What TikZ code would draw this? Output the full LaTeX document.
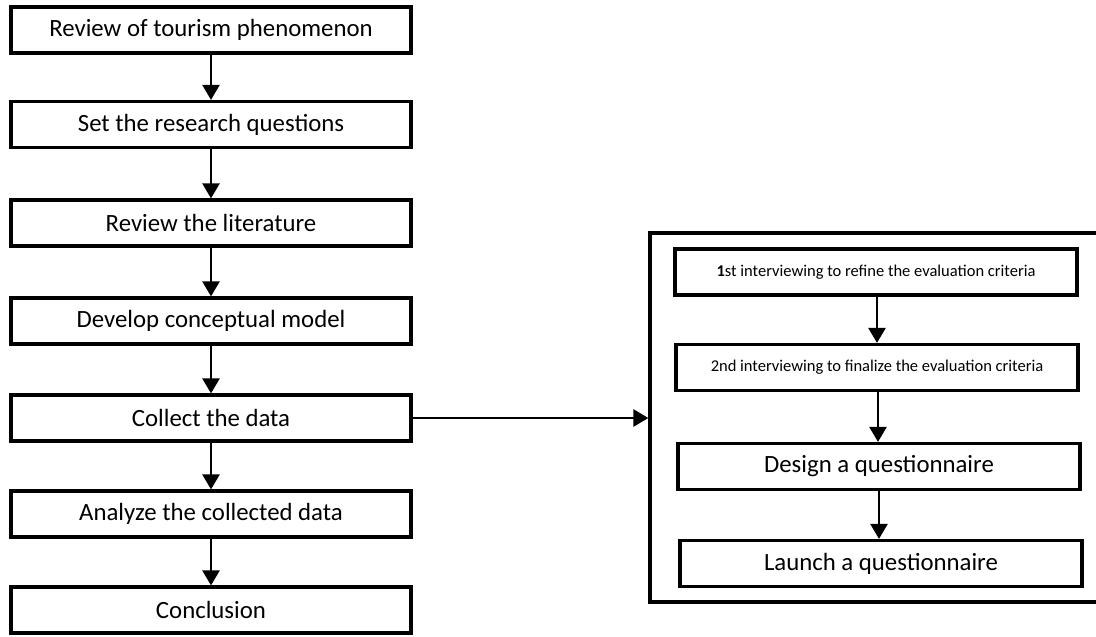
\documentclass[tikz,border=0pt]{standalone}
\usepackage{fontspec}
\setmainfont{Carlito}
\usetikzlibrary{arrows.meta}
\begin{document}
\begin{tikzpicture}[x=1pt,y=-1pt,
  lbox/.style={draw,line width=3.2pt,minimum width=400pt,minimum height=46pt,inner sep=0pt,
    font=\fontsize{24.8}{28}\selectfont},
  rbox/.style={draw,line width=3.2pt,minimum width=402pt,minimum height=46pt,inner sep=0pt},
  small/.style={font=\fontsize{16.5}{19}\selectfont},
  big/.style={font=\fontsize{24.8}{28}\selectfont},
  arr/.style={line width=2.5pt,-{Triangle[length=15pt,width=17pt]}}]
\clip (0,0) rectangle (1096,637);
\fill[white] (0,0) rectangle (1096,637);
\node[lbox] (n1) at (211,30) {Review of tourism phenomenon};
\node[lbox] (n2) at (211,124.5) {Set the research questions};
\node[lbox] (n3) at (211,223) {Review the literature};
\node[lbox] (n4) at (211,321) {Develop conceptual model};
\node[lbox] (n5) at (211,418) {Collect the data};
\node[lbox] (n6) at (211,514) {Analyze the collected data};
\node[lbox] (n7) at (211,610) {Conclusion};
\node[draw,line width=3.2pt,minimum width=460pt,minimum height=369pt,inner sep=0pt] (box) at (880,417.5) {};
\node[rbox,small] (r1) at (876,272) {\textbf{1}st interviewing to refine the evaluation criteria};
\node[rbox,small] (r2) at (877,367.5) {2nd interviewing to finalize the evaluation criteria};
\node[rbox,big] (r3) at (879,466.5) {Design a questionnaire};
\node[rbox,big] (r4) at (881,563.5) {Launch a questionnaire};
\draw[arr] (n1) -- (n2);
\draw[arr] (n2) -- (n3);
\draw[arr] (n3) -- (n4);
\draw[arr] (n4) -- (n5);
\draw[arr] (n5) -- (n6);
\draw[arr] (n6) -- (n7);
\draw[arr] (n5.east) -- (box.west |- n5.east);
\draw[arr] (r1.south -| 877,0) -- (r2.north -| 877,0);
\draw[arr] (r2.south -| 878,0) -- (r3.north -| 878,0);
\draw[arr] (r3.south -| 879,0) -- (r4.north -| 879,0);
\end{tikzpicture}
\end{document}
